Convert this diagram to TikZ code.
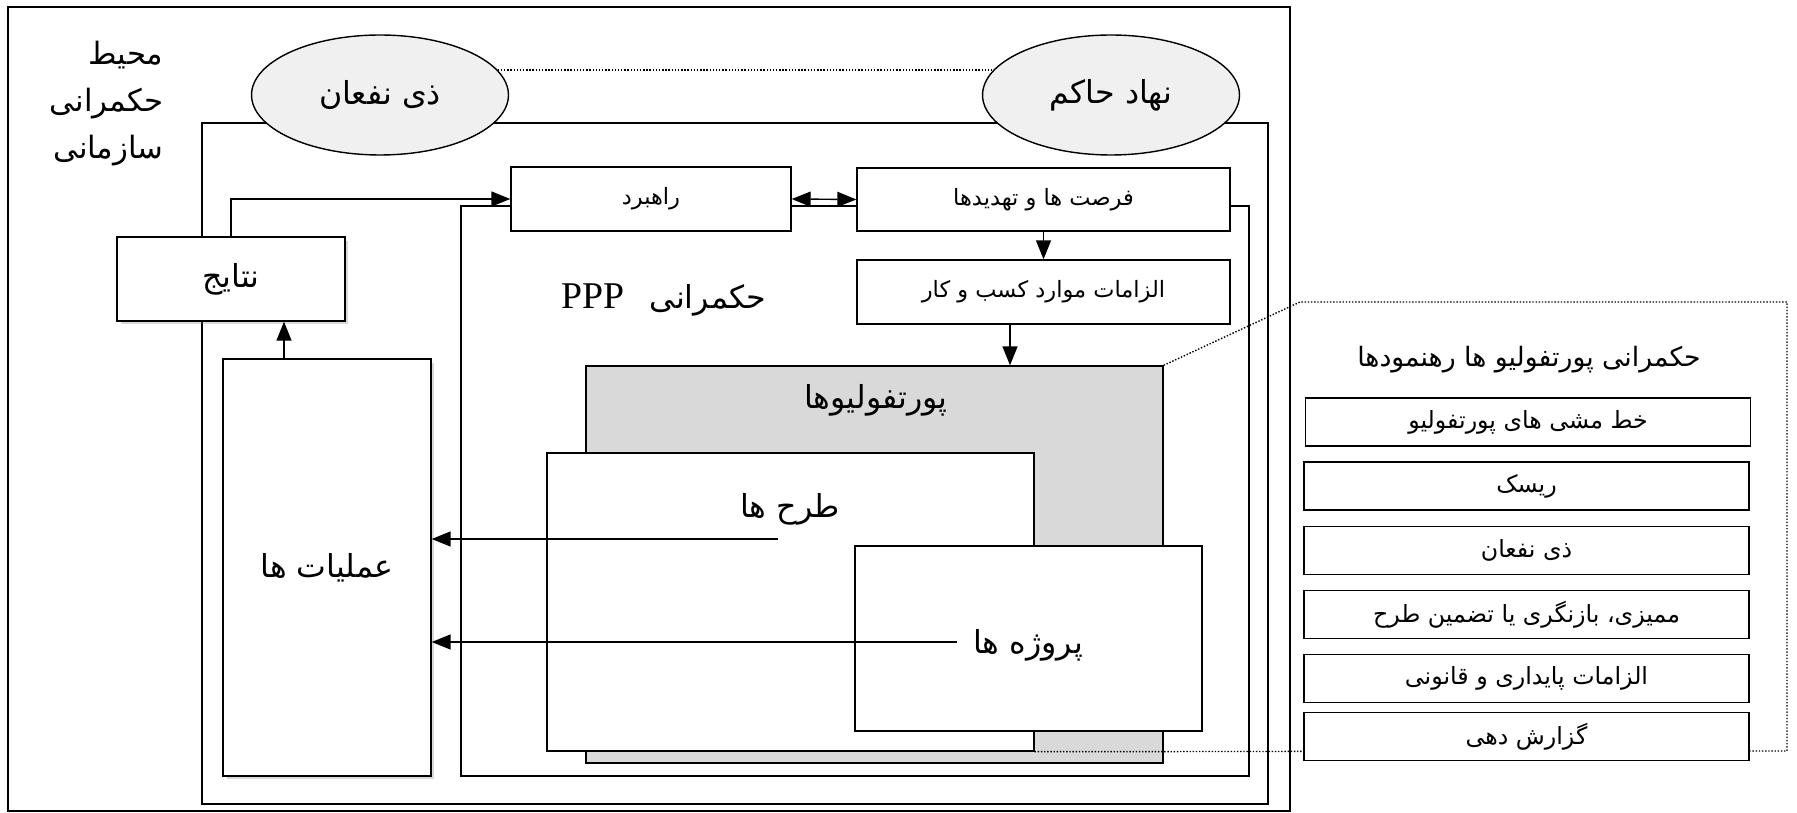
\documentclass[tikz,border=0pt]{standalone}
\usepackage{fontspec}
\setmainfont{Liberation Serif}
\newfontfamily\farsi[Script=Arabic]{DejaVu Sans}
\usetikzlibrary{arrows.meta,shapes.geometric,shadows}
\TeXXeTstate=1
\newcommand{\fatext}[1]{{\farsi\beginR #1\endR}}
\tikzset{
  box/.style={draw, fill=white, line width=0.8pt, inner sep=0pt},
  big/.style={font=\fontsize{18}{22}\selectfont},
  small/.style={font=\fontsize{12.8}{15}\selectfont},
  arr/.style={-{Triangle[length=0.38cm,width=0.3cm]}, line width=0.8pt},
  party/.style={ellipse, draw, fill=black!6, line width=0.8pt, minimum width=5.14cm, minimum height=2.4cm, inner sep=0pt},
  shade/.style={drop shadow={shadow xshift=0.07cm, shadow yshift=-0.07cm, opacity=0.3}},
  guide/.style={box, minimum width=8.9cm, minimum height=0.96cm, font=\fontsize{13.5}{16}\selectfont}
}
\begin{document}
\begin{tikzpicture}[x=0.02cm, y=-0.02cm, line width=0.8pt]
      \useasboundingbox (0,0) rectangle (1797,813);
      % frames
      \draw (8,7) rectangle (1290,811);
      \draw (202,123) rectangle (1268,804);
      \draw (461,206) rectangle (1249,776);
      \node[anchor=north east, align=right, font=\fontsize{17.5}{26.5}\selectfont] (env) at (170,35)
            {\fatext{محیط}\\\fatext{حکمرانی}\\\fatext{سازمانی}};
      \node[party, big] (stake) at (380,95) {\fatext{ذی نفعان}};
      \node[party, big] (gov) at (1111,95) {\fatext{نهاد حاکم}};
      \draw[densely dotted] (stake.12) -- (gov.168);
      % upper boxes
      \node[box, small, minimum width=5.6cm, minimum height=1.28cm] (strat) at (651,199) {\fatext{راهبرد}};
      \node[box, small, minimum width=7.46cm, minimum height=1.26cm] (opp) at (1043.5,199.5) {\fatext{فرصت ها و تهدیدها}};
      \node[box, small, minimum width=7.46cm, minimum height=1.28cm] (req) at (1043.5,292) {\fatext{الزامات موارد کسب و کار}};
      \node[box, big, shade, minimum width=4.56cm, minimum height=1.68cm] (res) at (231,279) {\fatext{نتایج}};
      \node[box, big, shade, minimum width=4.16cm, minimum height=8.34cm] (ops) at (327,567.5) {\fatext{عملیات ها}};
      \node[big] (ppptxt) at (664,300) {\fatext{حکمرانی\hspace{0.5cm}\beginL{\rmfamily\fontsize{21.5}{26}\selectfont PPP}\endL}};
      % portfolio stack
      \node[box, fill=black!15, minimum width=11.54cm, minimum height=7.94cm] (port) at (874.5,564.5) {};
      \node[big] (porttxt) at (876,400) {\fatext{پورتفولیوها}};
      \node[box, minimum width=9.74cm, minimum height=5.96cm] (plans) at (790.5,602) {};
      \node[big] (planstxt) at (790,509) {\fatext{طرح ها}};
      \node[box, minimum width=6.94cm, minimum height=3.7cm] (proj) at (1028.5,638.5) {};
      \node[big] (projtxt) at (1028,645) {\fatext{پروژه ها}};
      % guidelines
      \draw[densely dotted] (port.north east) -- (1300,302) -- (1787,302) -- (1787,751) -- (plans.south east);
      \node[font=\fontsize{15.2}{18}\selectfont] (guidetitle) at (1529,360) {\fatext{حکمرانی پورتفولیو ها رهنمودها}};
      \node[guide] (g1) at (1528,422) {\fatext{خط مشی های پورتفولیو}};
      \node[guide] (g2) at (1526.5,486) {\fatext{ریسک}};
      \node[guide] (g3) at (1526.5,550.5) {\fatext{ذی نفعان}};
      \node[guide] (g4) at (1526.5,614.5) {\fatext{ممیزی، بازنگری یا تضمین طرح}};
      \node[guide] (g5) at (1526.5,678.5) {\fatext{الزامات پایداری و قانونی}};
      \node[guide] (g6) at (1526.5,736.5) {\fatext{گزارش دهی}};
      % connectors
      \coordinate (opsout) at (284,359);
      \coordinate (reqout) at (1010,324);
      \coordinate (planout) at (778,539);
      \coordinate (projout) at (957,642);
      \draw[arr] (res.north) |- (strat.west);
      \draw[{Triangle[length=0.38cm,width=0.3cm]}-{Triangle[length=0.38cm,width=0.3cm]}] (strat.east) -- (opp.west);
      \draw[arr] (opp.south) -- (req.north);
      \draw[arr] (reqout) -- (reqout |- port.north);
      \draw[arr] (opsout) -- (opsout |- res.south);
      \draw[arr] (planout) -- (planout -| ops.east);
      \draw[arr] (projout) -- (projout -| ops.east);
\end{tikzpicture}
\end{document}
